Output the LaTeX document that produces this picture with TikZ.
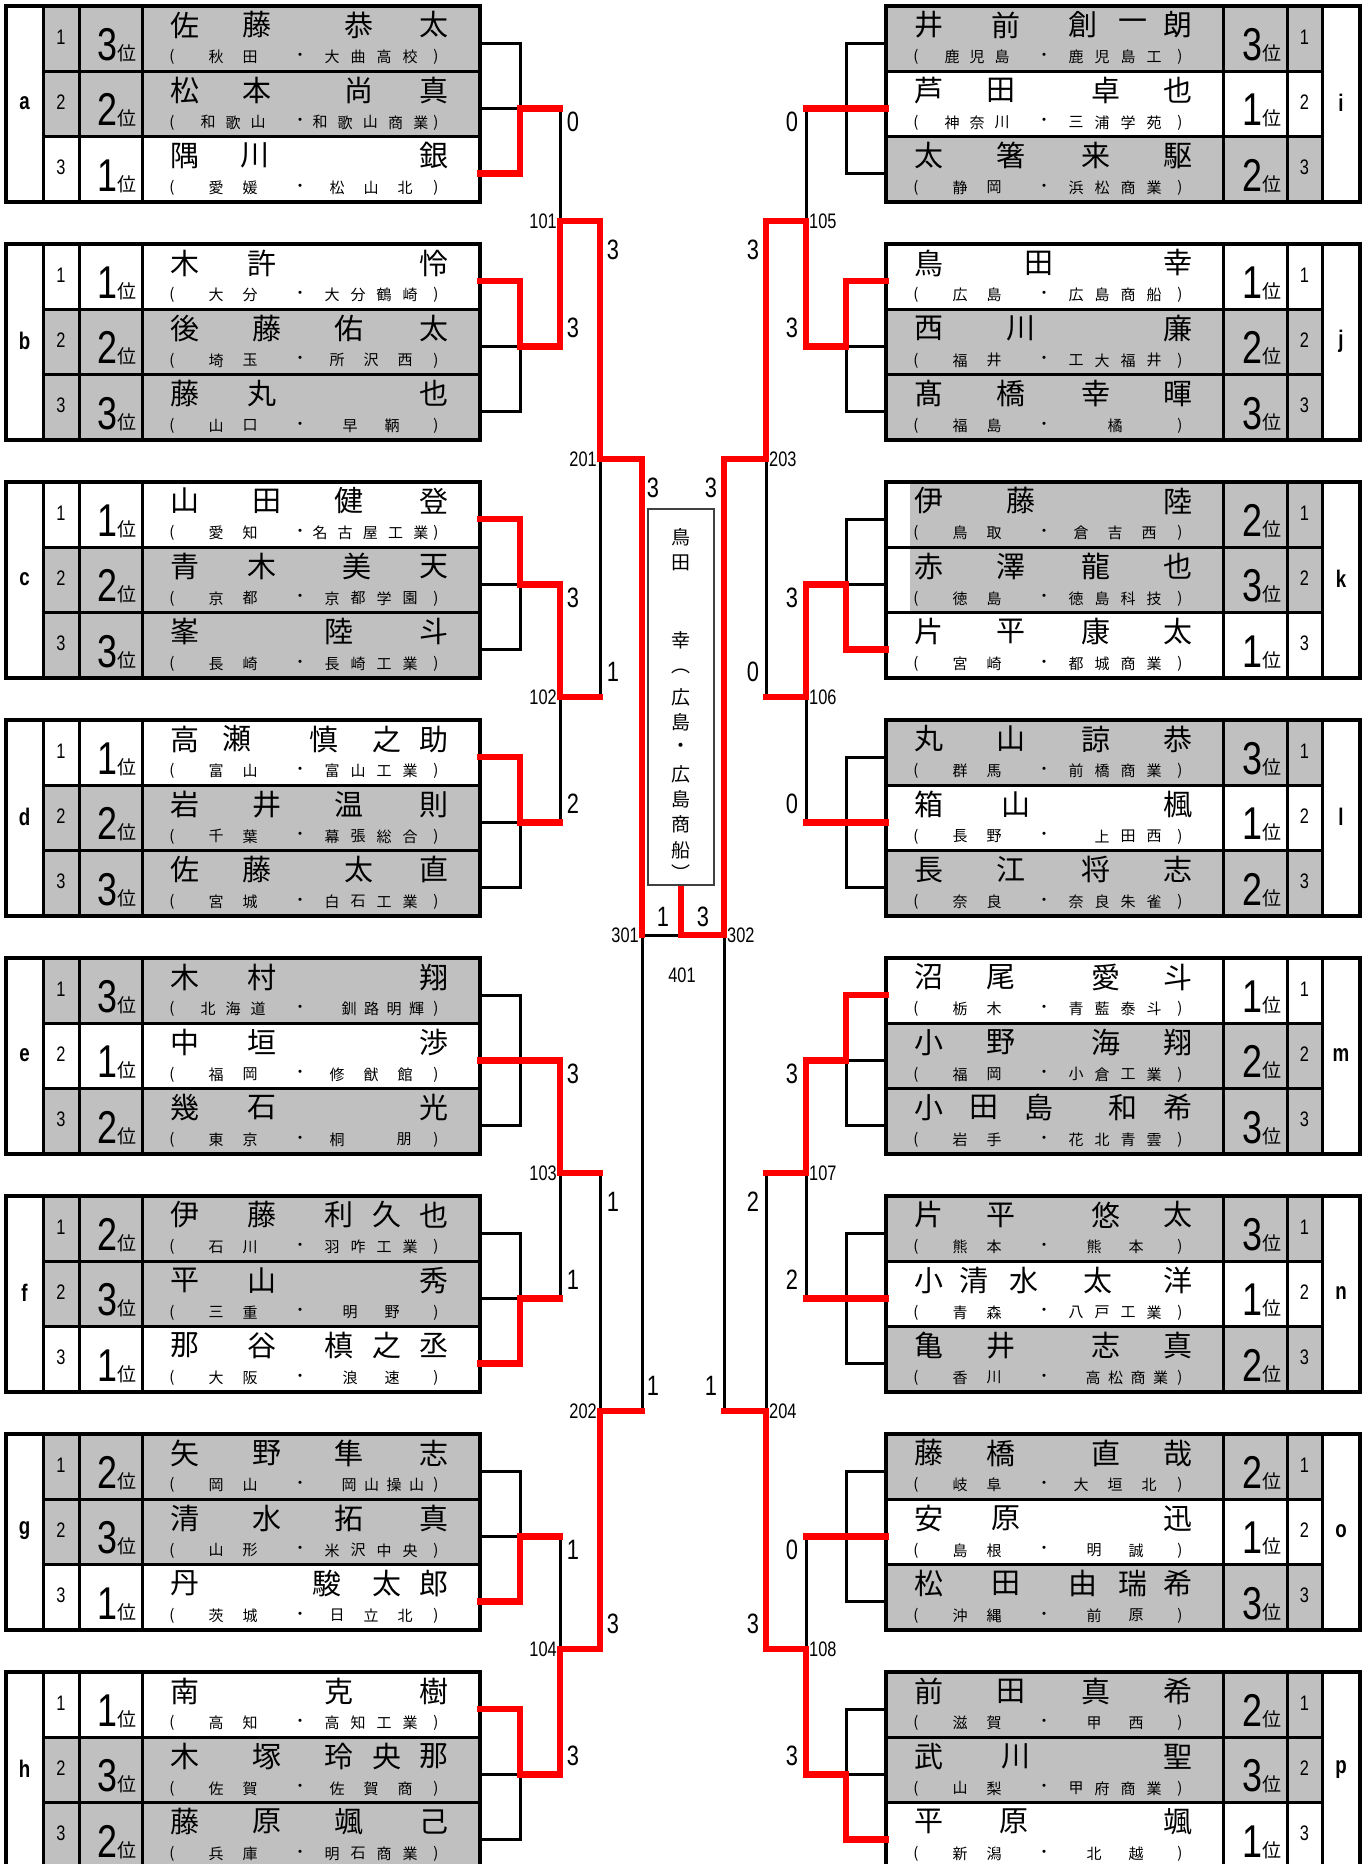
\documentclass[tikz,border=0pt]{standalone}
\usepackage{fontspec}
\setmainfont{Liberation Sans}
\newfontfamily\jp{Noto Sans CJK JP}
\newfontfamily\nf[FakeStretch=0.78]{Liberation Sans}
\definecolor{gr}{HTML}{C0C0C0}
\definecolor{rd}{HTML}{FF0000}
\pgfdeclarelayer{fg}
\pgfsetlayers{main,fg}
\newcount\nn
\tikzset{
  sep/.style={line width=3pt},
  outer/.style={line width=4.5pt},
  blk/.style={line width=3pt, line cap=rect},
  win/.style={line width=6.5pt, draw=rd, line cap=rect, line join=miter},
  nm/.style={inner sep=0pt, font=\jp\fontsize{29}{29}\selectfont},
  sb/.style={inner sep=0pt, font=\jp\fontsize{15}{15}\selectfont},
  seed/.style={inner sep=0pt, font=\nf\fontsize{21}{21}\selectfont},
  glab/.style={inner sep=0pt, font=\nf\bfseries\fontsize{24}{24}\selectfont},
  score/.style={inner sep=0pt, font=\nf\fontsize{28}{28}\selectfont},
  mlab/.style={inner sep=0pt, font=\nf\fontsize{21}{21}\selectfont},
  chmp/.style={inner sep=0pt, font=\jp\fontsize{19}{19}\selectfont},
}
\newcommand\schoolparams[1]{%
  \def\sst{229}\def\sstep{0}%
  \if#1n%
    \ifcase\nn\or\def\sst{229}\def\sstep{0}\or\def\sst{208}\def\sstep{42}\or\def\sst{195}\def\sstep{34}\or\def\sst{190}\def\sstep{26}\or\def\sst{178}\def\sstep{25.2}\fi
  \fi
  \if#1c%
    \ifnum\nn=3 \def\sst{216}\def\sstep{26}\else\def\sst{207}\def\sstep{22.5}\fi
  \fi
  \if#1w\def\sst{195}\def\sstep{67}\fi
}
\newcommand\gbox[6]{%
  \foreach \r in {1,2,3}{%
    \pgfmathsetmacro\ya{#2+65.33*(\r-1)}%
    \pgfmathsetmacro\yb{#2+65.33*\r}%
    \ifnum\r=#4\relax\def\fc{white}\else\def\fc{gr}\fi
    \if#1L\fill[\fc] (43,\ya) rectangle (480,\yb);\else\fill[\fc] (886,\ya) rectangle (1322,\yb);\fi
  }%
  #6%
  \if#1L
    \foreach \x in {43,79,142}{\draw[sep] (\x,{#2}) -- (\x,{#2+196});}
    \draw[sep] (43,{#2+65.33}) -- (480,{#2+65.33});
    \draw[sep] (43,{#2+130.67}) -- (480,{#2+130.67});
    \draw[outer] (6,{#2}) rectangle (480,{#2+196});
    \node[glab] (#5-lab) at (24.5,{#2+97}) {#3};
    \foreach \r in {1,2,3}{\node[seed] (#5-seed\r) at (61,{#2+31+65.33*(\r-1)}) {\r};}
  \else
    \foreach \x in {1223,1287,1322}{\draw[sep] (\x,{#2}) -- (\x,{#2+196});}
    \draw[sep] (886,{#2+65.33}) -- (1322,{#2+65.33});
    \draw[sep] (886,{#2+130.67}) -- (1322,{#2+130.67});
    \draw[outer] (886,{#2}) rectangle (1360,{#2+196});
    \node[glab] (#5-lab) at (1341,{#2+97}) {#3};
    \foreach \r in {1,2,3}{\node[seed] (#5-seed\r) at (1304.5,{#2+31+65.33*(\r-1)}) {\r};}
  \fi
}
\newcommand\prow[9]{%
  \pgfmathsetmacro\rt{#2+65.33*(#3-1)}%
  \if#1L\def\cl{142}\def\rx{137}\else\def\cl{886}\def\rx{1282}\fi
  \node[anchor=base east,inner sep=0pt] (#9-rank) at (\rx,{\rt+54.5}) {{\nf\fontsize{46}{46}\selectfont #4}{\jp\fontsize{19}{19}\selectfont 位}};
  \foreach \ch/\fr [count=\i] in {#5}{\node[nm] (#9-n\i) at ({\cl+43+\fr*249},{\rt+19}) {\ch};}
  \node[sb] (#9-lp) at ({\cl+30},{\rt+51}) {(};
  \node[sb] (#9-dot) at ({\cl+158},{\rt+51}) {・};
  \node[sb] (#9-rp) at ({\cl+294},{\rt+51}) {)};
  \global\nn=0 \foreach \ch in {#6}{\global\advance\nn by 1}%
  \ifnum\nn=3 \def\ps{66}\def\pst{25}\else\def\ps{74}\def\pst{34}\fi
  \foreach \ch [count=\i] in {#6}{\node[sb] (#9-p\i) at ({\cl+\ps+(\i-1)*\pst},{\rt+51}) {\ch};}
  \global\nn=0 \foreach \ch in {#7}{\global\advance\nn by 1}%
  \schoolparams{#8}%
  \foreach \ch [count=\i] in {#7}{\node[sb] (#9-s\i) at ({\cl+\sst+(\i-1)*\sstep},{\rt+51}) {\ch};}
}
\newcommand\gconn[3]{%
  \if#1L
    \coordinate (#3-r1) at (480,{#2+37});
    \coordinate (#3-r2) at (480,{#2+102.3});
    \coordinate (#3-r3) at (480,{#2+167.7});
    \coordinate (#3-j) at (520,{#2+102.3});
    \coordinate (#3-o) at (560,{#2+102.3});
  \else
    \coordinate (#3-r1) at (886,{#2+37});
    \coordinate (#3-r2) at (886,{#2+102.3});
    \coordinate (#3-r3) at (886,{#2+167.7});
    \coordinate (#3-j) at (846,{#2+102.3});
    \coordinate (#3-o) at (806,{#2+102.3});
  \fi
  \draw[blk] (#3-r1) -| (#3-j |- #3-r3) -- (#3-r3);
  \draw[blk] (#3-r2) -- (#3-o);
}
\newcommand\gwin[2]{%
  \begin{pgfonlayer}{fg}
  \ifcase#2\or
    \draw[win] (#1-r1) -| (#1-j) -- (#1-o);
  \or
    \draw[win] (#1-r2) -- (#1-o);
  \or
    \draw[win] (#1-r3) -| (#1-j) -- (#1-o);
  \fi
  \end{pgfonlayer}
}
\newcommand\match[3]{\draw[blk] (#1) -- (#2) (#1 |- #3) -- (#3);}
\newcommand\mwin[2]{\begin{pgfonlayer}{fg}\draw[win] (#1) -- (#1 |- #2) -- (#2);\end{pgfonlayer}}
\begin{document}
\begin{tikzpicture}[x=1pt,y=-1pt]
\useasboundingbox (0,0) rectangle (1368,1864);
\fill[white] (0,0) rectangle (1368,1864);
\clip (0,0) rectangle (1368,1864);
% ---------- group boxes ----------
\gbox{L}{6}{a}{3}{a}{}
\gbox{L}{244}{b}{1}{b}{}
\gbox{L}{482}{c}{1}{c}{}
\gbox{L}{720}{d}{1}{d}{}
\gbox{L}{958}{e}{2}{e}{}
\gbox{L}{1196}{f}{3}{f}{}
\gbox{L}{1434}{g}{3}{g}{}
\gbox{L}{1672}{h}{1}{h}{}
\gbox{R}{6}{i}{2}{i}{}
\gbox{R}{244}{j}{1}{j}{}
\gbox{R}{482}{k}{3}{k}{\fill[white] (888,484) rectangle (910,612.67);}
\gbox{R}{720}{l}{2}{l}{}
\gbox{R}{958}{m}{1}{m}{}
\gbox{R}{1196}{n}{2}{n}{}
\gbox{R}{1434}{o}{2}{o}{}
\gbox{R}{1672}{p}{3}{p}{}
% ---------- rows, left ----------
\prow{L}{6}{1}{3}{佐/0,藤/0.29,恭/0.70,太/1}{秋,田}{大,曲,高,校}{n}{a1}
\prow{L}{6}{2}{2}{松/0,本/0.29,尚/0.70,真/1}{和,歌,山}{和,歌,山,商,業}{n}{a2}
\prow{L}{6}{3}{1}{隅/0,川/0.28,銀/1}{愛,媛}{松,山,北}{n}{a3}
\prow{L}{244}{1}{1}{木/0,許/0.31,怜/1}{大,分}{大,分,鶴,崎}{n}{b1}
\prow{L}{244}{2}{2}{後/0,藤/0.33,佑/0.66,太/1}{埼,玉}{所,沢,西}{n}{b2}
\prow{L}{244}{3}{3}{藤/0,丸/0.31,也/1}{山,口}{早,鞆}{n}{b3}
\prow{L}{482}{1}{1}{山/0,田/0.33,健/0.66,登/1}{愛,知}{名,古,屋,工,業}{n}{c1}
\prow{L}{482}{2}{2}{青/0,木/0.31,美/0.69,天/1}{京,都}{京,都,学,園}{n}{c2}
\prow{L}{482}{3}{3}{峯/0,陸/0.62,斗/1}{長,崎}{長,崎,工,業}{n}{c3}
\prow{L}{720}{1}{1}{高/0,瀬/0.21,慎/0.56,之/0.81,助/1}{富,山}{富,山,工,業}{n}{d1}
\prow{L}{720}{2}{2}{岩/0,井/0.33,温/0.66,則/1}{千,葉}{幕,張,総,合}{n}{d2}
\prow{L}{720}{3}{3}{佐/0,藤/0.29,太/0.70,直/1}{宮,城}{白,石,工,業}{n}{d3}
\prow{L}{958}{1}{3}{木/0,村/0.31,翔/1}{北,海,道}{釧,路,明,輝}{c}{e1}
\prow{L}{958}{2}{1}{中/0,垣/0.31,渉/1}{福,岡}{修,猷,館}{n}{e2}
\prow{L}{958}{3}{2}{幾/0,石/0.31,光/1}{東,京}{桐,朋}{w}{e3}
\prow{L}{1196}{1}{2}{伊/0,藤/0.31,利/0.62,久/0.81,也/1}{石,川}{羽,咋,工,業}{n}{f1}
\prow{L}{1196}{2}{3}{平/0,山/0.31,秀/1}{三,重}{明,野}{n}{f2}
\prow{L}{1196}{3}{1}{那/0,谷/0.31,槙/0.62,之/0.81,丞/1}{大,阪}{浪,速}{n}{f3}
\prow{L}{1434}{1}{2}{矢/0,野/0.33,隼/0.66,志/1}{岡,山}{岡,山,操,山}{c}{g1}
\prow{L}{1434}{2}{3}{清/0,水/0.33,拓/0.66,真/1}{山,形}{米,沢,中,央}{n}{g2}
\prow{L}{1434}{3}{1}{丹/0,駿/0.57,太/0.81,郎/1}{茨,城}{日,立,北}{n}{g3}
\prow{L}{1672}{1}{1}{南/0,克/0.62,樹/1}{高,知}{高,知,工,業}{n}{h1}
\prow{L}{1672}{2}{3}{木/0,塚/0.33,玲/0.62,央/0.81,那/1}{佐,賀}{佐,賀,商}{n}{h2}
\prow{L}{1672}{3}{2}{藤/0,原/0.33,颯/0.66,己/1}{兵,庫}{明,石,商,業}{n}{h3}
% ---------- rows, right ----------
\prow{R}{6}{1}{3}{井/0,前/0.31,創/0.62,一/0.82,朗/1}{鹿,児,島}{鹿,児,島,工}{n}{i1}
\prow{R}{6}{2}{1}{芦/0,田/0.29,卓/0.71,也/1}{神,奈,川}{三,浦,学,苑}{n}{i2}
\prow{R}{6}{3}{2}{太/0,箸/0.33,来/0.67,駆/1}{静,岡}{浜,松,商,業}{n}{i3}
\prow{R}{244}{1}{1}{鳥/0,田/0.44,幸/1}{広,島}{広,島,商,船}{n}{j1}
\prow{R}{244}{2}{2}{西/0,川/0.37,廉/1}{福,井}{工,大,福,井}{n}{j2}
\prow{R}{244}{3}{3}{髙/0,橋/0.33,幸/0.67,暉/1}{福,島}{橘}{n}{j3}
\prow{R}{482}{1}{2}{伊/0,藤/0.37,陸/1}{鳥,取}{倉,吉,西}{n}{k1}
\prow{R}{482}{2}{3}{赤/0,澤/0.33,龍/0.67,也/1}{徳,島}{徳,島,科,技}{n}{k2}
\prow{R}{482}{3}{1}{片/0,平/0.33,康/0.67,太/1}{宮,崎}{都,城,商,業}{n}{k3}
\prow{R}{720}{1}{3}{丸/0,山/0.33,諒/0.67,恭/1}{群,馬}{前,橋,商,業}{n}{l1}
\prow{R}{720}{2}{1}{箱/0,山/0.35,楓/1}{長,野}{上,田,西}{c}{l2}
\prow{R}{720}{3}{2}{長/0,江/0.33,将/0.67,志/1}{奈,良}{奈,良,朱,雀}{n}{l3}
\prow{R}{958}{1}{1}{沼/0,尾/0.29,愛/0.71,斗/1}{栃,木}{青,藍,泰,斗}{n}{m1}
\prow{R}{958}{2}{2}{小/0,野/0.29,海/0.71,翔/1}{福,岡}{小,倉,工,業}{n}{m2}
\prow{R}{958}{3}{3}{小/0,田/0.22,島/0.44,和/0.78,希/1}{岩,手}{花,北,青,雲}{n}{m3}
\prow{R}{1196}{1}{3}{片/0,平/0.29,悠/0.71,太/1}{熊,本}{熊,本}{n}{n1}
\prow{R}{1196}{2}{1}{小/0,清/0.18,水/0.38,太/0.68,洋/1}{青,森}{八,戸,工,業}{n}{n2}
\prow{R}{1196}{3}{2}{亀/0,井/0.29,志/0.71,真/1}{香,川}{高,松,商,業}{c}{n3}
\prow{R}{1434}{1}{2}{藤/0,橋/0.29,直/0.71,哉/1}{岐,阜}{大,垣,北}{n}{o1}
\prow{R}{1434}{2}{1}{安/0,原/0.31,迅/1}{島,根}{明,誠}{n}{o2}
\prow{R}{1434}{3}{3}{松/0,田/0.31,由/0.62,瑞/0.82,希/1}{沖,縄}{前,原}{n}{o3}
\prow{R}{1672}{1}{2}{前/0,田/0.33,真/0.67,希/1}{滋,賀}{甲,西}{n}{p1}
\prow{R}{1672}{2}{3}{武/0,川/0.35,聖/1}{山,梨}{甲,府,商,業}{n}{p2}
\prow{R}{1672}{3}{1}{平/0,原/0.34,颯/1}{新,潟}{北,越}{n}{p3}
% ---------- group connectors ----------
\gconn{L}{6}{a}\gconn{L}{244}{b}\gconn{L}{482}{c}\gconn{L}{720}{d}
\gconn{L}{958}{e}\gconn{L}{1196}{f}\gconn{L}{1434}{g}\gconn{L}{1672}{h}
\gconn{R}{6}{i}\gconn{R}{244}{j}\gconn{R}{482}{k}\gconn{R}{720}{l}
\gconn{R}{958}{m}\gconn{R}{1196}{n}\gconn{R}{1434}{o}\gconn{R}{1672}{p}
\gwin{a}{3}\gwin{b}{1}\gwin{c}{1}\gwin{d}{1}\gwin{e}{2}\gwin{f}{3}\gwin{g}{3}\gwin{h}{1}
\gwin{i}{2}\gwin{j}{1}\gwin{k}{3}\gwin{l}{2}\gwin{m}{1}\gwin{n}{2}\gwin{o}{2}\gwin{p}{3}
% ---------- match points ----------
\coordinate (m101) at (600,221); \coordinate (m102) at (600,697);
\coordinate (m103) at (600,1173); \coordinate (m104) at (600,1649);
\coordinate (m201) at (642,459); \coordinate (m202) at (642,1411);
\coordinate (m301) at (642,935);
\coordinate (m105) at (766,221); \coordinate (m106) at (766,697);
\coordinate (m107) at (766,1173); \coordinate (m108) at (766,1649);
\coordinate (m203) at (724,459); \coordinate (m204) at (724,1411);
\coordinate (m302) at (724,935);
\match{a-o}{b-o}{m101}\match{c-o}{d-o}{m102}\match{e-o}{f-o}{m103}\match{g-o}{h-o}{m104}
\match{i-o}{j-o}{m105}\match{k-o}{l-o}{m106}\match{m-o}{n-o}{m107}\match{o-o}{p-o}{m108}
\match{m101}{m102}{m201}\match{m103}{m104}{m202}
\match{m105}{m106}{m203}\match{m107}{m108}{m204}
\draw[blk] (m201) -- (m202);
\draw[blk] (m203) -- (m204);
\draw[blk] (m301) -- (m302);
\mwin{b-o}{m101}\mwin{c-o}{m102}\mwin{e-o}{m103}\mwin{h-o}{m104}
\mwin{j-o}{m105}\mwin{k-o}{m106}\mwin{m-o}{m107}\mwin{p-o}{m108}
\mwin{m101}{m201}\mwin{m104}{m202}\mwin{m105}{m203}\mwin{m108}{m204}
\mwin{m201}{m301}\mwin{m203}{m302}
% ---------- champion ----------
\node[draw=black!75, line width=1.5pt, minimum width=66pt, minimum height=376pt, inner sep=0pt] (champ) at (681,697) {};
\foreach \ch/\yy [count=\i] in {鳥/537,田/563,幸/640,︵/671,広/697,島/722,・/748,広/774,島/799,商/824,船/850,︶/873}
  {\node[chmp] (champ-\i) at (681,\yy) {\ch};}
\begin{pgfonlayer}{fg}
\draw[win] (m302) -- (m302 -| champ.south) -- ([yshift=-3pt]champ.south);
\end{pgfonlayer}
% ---------- match labels ----------
\foreach \n/\y in {101/221,102/697,103/1173,104/1649}{\node[mlab,anchor=east] (lab\n) at (557,\y) {\n};}
\foreach \n/\y in {105/221,106/697,107/1173,108/1649}{\node[mlab,anchor=west] (lab\n) at (809,\y) {\n};}
\node[mlab,anchor=east] (lab201) at (597,459) {201};
\node[mlab,anchor=east] (lab202) at (597,1411) {202};
\node[mlab,anchor=west] (lab203) at (769,459) {203};
\node[mlab,anchor=west] (lab204) at (769,1411) {204};
\node[mlab,anchor=east] (lab301) at (639,935) {301};
\node[mlab,anchor=west] (lab302) at (727,935) {302};
\node[mlab] (lab401) at (682,975) {401};
% ---------- scores ----------
\foreach \s/\x/\y [count=\i] in {0/573/122,3/573/328,3/573/598,2/573/804,3/573/1074,1/573/1280,1/573/1550,3/573/1756,
  0/792/122,3/792/328,3/792/598,0/792/804,3/792/1074,2/792/1280,0/792/1550,3/792/1756,
  3/613/250,1/613/672,1/613/1202,3/613/1624,3/753/250,0/753/672,2/753/1202,3/753/1624,
  3/653/488,1/653/1386,3/711/488,1/711/1386,1/663/917,3/703/917}
  {\node[score] (score\i) at (\x,\y) {\s};}
\end{tikzpicture}
\end{document}
